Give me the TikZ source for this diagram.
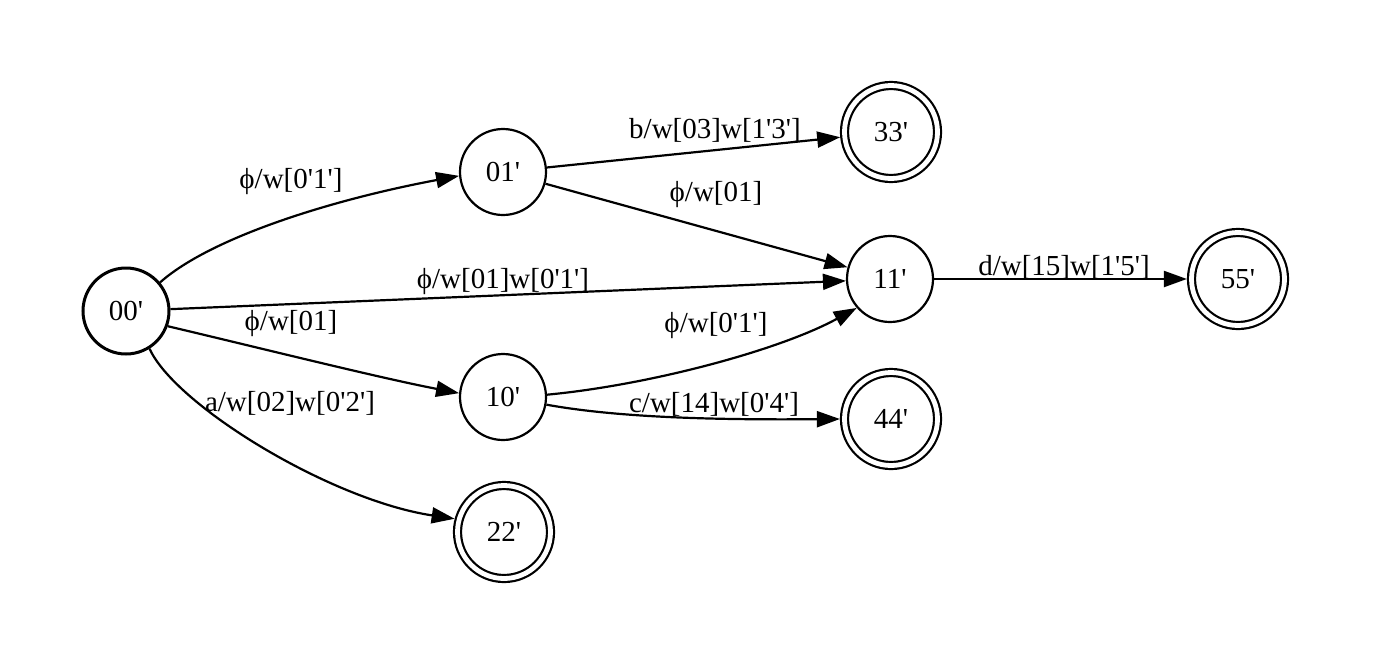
\documentclass[tikz,border=0pt]{standalone}
\usepackage{fontspec}
\setmainfont{Liberation Serif}[Ligatures=TeXOff]
\usetikzlibrary{arrows.meta}
\begin{document}
\begin{tikzpicture}[x=0.5pt,y=-0.5pt,
  txt/.style={font=\fontsize{14.5}{17}\selectfont},
  state/.style={txt,circle,draw,line width=1.1pt,inner sep=0pt,outer sep=0.55pt,minimum size=43pt},
  initstate/.style={state,line width=1.5pt,outer sep=0.75pt},
  final/.style={txt,circle,draw,line width=1.1pt,double,double distance=2.4pt,inner sep=0pt,outer sep=2.3pt,minimum size=46.5pt},
  lbl/.style={txt,inner sep=0pt},
  edge/.style={line width=1.1pt,-{Triangle[length=11.5pt,width=8pt]}}]
\useasboundingbox (0,0) rectangle (1375,665);
\node[initstate] (n00) at (126,311) {00'};
\node[state] (n01) at (503,172) {01'};
\node[state] (n10) at (503,397) {10'};
\node[state] (n11) at (890,279) {11'};
\node[final] (n33) at (891,132) {33'};
\node[final] (n44) at (891,419) {44'};
\node[final] (n22) at (504,532) {22'};
\node[final] (n55) at (1238,279) {55'};
\draw[edge] (n00.40) .. controls (210,238) and (330,200) .. (n01.185);
\draw[edge] (n00) -- (n11);
\draw[edge] (n00.-20) .. controls (260,348) and (380,378) .. (n10.175);
\draw[edge] (n00.-58) .. controls (175,405) and (330,500) .. (n22.165);
\draw[edge] (n01) -- (n33);
\draw[edge] (n01) -- (n11);
\draw[edge] (n10.3) .. controls (650,385) and (780,350) .. (n11.221);
\draw[edge] (n10.-10) .. controls (620,418) and (720,420) .. (n44.180);
\draw[edge] (n11) -- (n55);
\node[lbl] (l1) at (291,182) {ϕ/w[0'1']};
\node[lbl] (l2) at (503,282) {ϕ/w[01]w[0'1']};
\node[lbl] (l3) at (291,324) {ϕ/w[01]};
\node[lbl] (l4) at (290,403) {a/w[02]w[0'2']};
\node[lbl] (l5) at (715,130) {b/w[03]w[1'3']};
\node[lbl] (l6) at (716,195) {ϕ/w[01]};
\node[lbl] (l7) at (716,326) {ϕ/w[0'1']};
\node[lbl] (l8) at (714,404) {c/w[14]w[0'4']};
\node[lbl] (l9) at (1064,267) {d/w[15]w[1'5']};
\end{tikzpicture}
\end{document}
